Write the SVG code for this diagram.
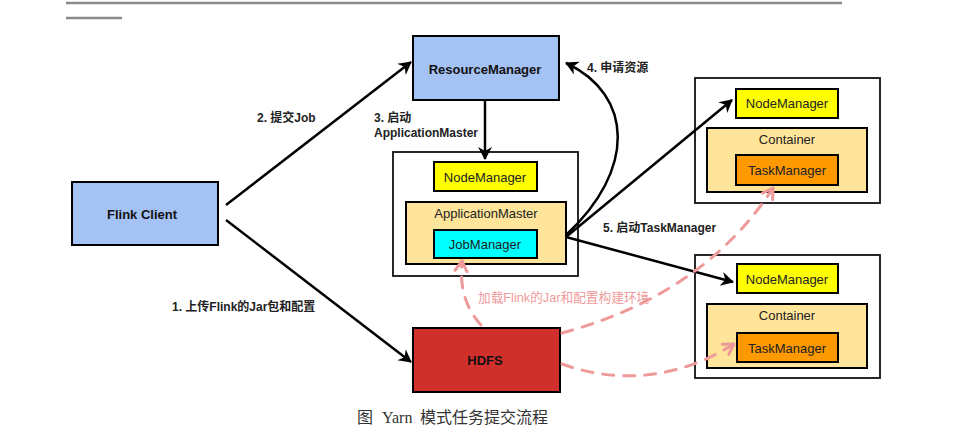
<svg xmlns="http://www.w3.org/2000/svg" width="955" height="439" viewBox="0 0 955 439">
<defs>
<marker id="ah" markerUnits="userSpaceOnUse" markerWidth="16" markerHeight="16" refX="13" refY="8" orient="auto">
<path d="M1,1 L14,8 L1,15 L5,8 z" fill="#000"/>
</marker>
<marker id="ahp" markerUnits="userSpaceOnUse" markerWidth="16" markerHeight="16" refX="13" refY="8" orient="auto">
<path d="M3,2 L13,8 L3,14" fill="none" stroke="#ef9a9a" stroke-width="3" stroke-linecap="round" stroke-linejoin="round"/>
</marker>
<style>
.box{stroke:#000;stroke-width:2}
.host{fill:#fff;stroke:#111;stroke-width:1.8}
.blue{fill:#a4c2f4}
.yel{fill:#ffff00}
.cyan{fill:#00ffff}
.org{fill:#ff9900}
.lt{fill:#ffe599}
.red{fill:#d0302c}
.t{font-family:"Liberation Sans","Noto Sans CJK SC",sans-serif;font-size:13px;fill:#222;text-anchor:middle;dominant-baseline:central}
.tb{font-family:"Liberation Sans","Noto Sans CJK SC",sans-serif;font-size:13px;font-weight:bold;fill:#111;text-anchor:middle;dominant-baseline:central}
.lb{font-family:"Liberation Sans","Noto Sans CJK SC",sans-serif;font-size:12px;font-weight:bold;fill:#222;dominant-baseline:central}
.pk{font-family:"Liberation Sans","Noto Sans CJK SC",sans-serif;font-size:12.7px;fill:#ef9a9a;dominant-baseline:central}
.cap{font-family:"Liberation Serif","Noto Sans CJK SC",serif;font-size:16px;fill:#333;dominant-baseline:central}
.ar{fill:none;stroke:#000;stroke-width:2.5;marker-end:url(#ah)}
.pd{fill:none;stroke:#ef9a9a;stroke-width:3;stroke-dasharray:11 10;stroke-linecap:round;marker-end:url(#ahp)}
</style>
</defs>
<rect width="955" height="439" fill="#fff"/>
<line x1="66" y1="3" x2="842" y2="3" stroke="#8a8a8a" stroke-width="2.5"/>
<line x1="66" y1="18" x2="122" y2="18" stroke="#8a8a8a" stroke-width="2.5"/>

<g id="flink-client"><rect class="box blue" x="72" y="182" width="146" height="63"/><text class="tb" x="142" y="214">Flink Client</text></g>
<g id="resource-manager"><rect class="box blue" x="413" y="36" width="146" height="64"/><text class="tb" x="485" y="69">ResourceManager</text></g>

<g id="am-host">
<rect class="host" x="393" y="152" width="185" height="124"/>
<g id="nm1"><rect class="box yel" x="434" y="162" width="103" height="29"/><text class="t" x="485" y="177">NodeManager</text></g>
<g id="app-master"><rect class="box lt" x="406" y="202" width="160" height="62"/><text class="t" x="486" y="213">ApplicationMaster</text></g>
<g id="job-manager"><rect class="box cyan" x="434" y="230" width="103" height="28"/><text class="t" x="485" y="244">JobManager</text></g>
</g>

<g id="tm-host-1">
<rect class="host" x="695" y="78" width="185" height="125"/>
<g id="nm2"><rect class="box yel" x="736" y="89" width="102" height="29"/><text class="t" x="787" y="103">NodeManager</text></g>
<g id="container1"><rect class="box lt" x="707" y="128" width="160" height="64"/><text class="t" x="787" y="139">Container</text></g>
<g id="tm1"><rect class="box org" x="736" y="155" width="102" height="30"/><text class="t" x="787" y="170">TaskManager</text></g>
</g>

<g id="tm-host-2">
<rect class="host" x="695" y="255" width="185" height="123"/>
<g id="nm3"><rect class="box yel" x="737" y="264" width="101" height="29"/><text class="t" x="787" y="279">NodeManager</text></g>
<g id="container2"><rect class="box lt" x="707" y="304" width="160" height="64"/><text class="t" x="787" y="315">Container</text></g>
<g id="tm2"><rect class="box org" x="737" y="333" width="101" height="29"/><text class="t" x="787" y="348">TaskManager</text></g>
</g>

<g id="hdfs"><rect class="box red" x="413" y="328" width="147" height="64"/><text class="tb" x="485" y="360">HDFS</text></g>

<g id="connectors">
<line class="ar" x1="226" y1="205" x2="411" y2="62"/>
<line class="ar" x1="226" y1="220" x2="411" y2="362"/>
<line class="ar" x1="485" y1="101" x2="485" y2="159"/>
<path class="ar" d="M566,235 C636,170 634,95 566,63"/>
<line class="ar" x1="566" y1="237" x2="732" y2="100"/>
<line class="ar" x1="566" y1="237" x2="733" y2="282"/>
<path class="pd" d="M481,325 Q458,300 462,261"/>
<path class="pd" d="M562,333 C640,312 720,270 773,188"/>
<path class="pd" d="M562,364 C620,385 680,378 734,344"/>
</g>

<g id="labels">
<text class="lb" x="257" y="118">2. 提交Job</text>
<text class="lb" x="374" y="118">3. 启动</text>
<text class="lb" x="374" y="133">ApplicationMaster</text>
<text class="lb" x="587" y="68">4. 申请资源</text>
<text class="lb" x="603" y="228">5. 启动TaskManager</text>
<text class="lb" x="172" y="307">1. 上传Flink的Jar包和配置</text>
<text class="pk" x="478" y="298">加载Flink的Jar和配置构建环境</text>
<text class="cap" y="417"><tspan x="357">图</tspan><tspan x="382">Yarn</tspan><tspan x="420">模式任务提交流程</tspan></text>
</g>
</svg>
